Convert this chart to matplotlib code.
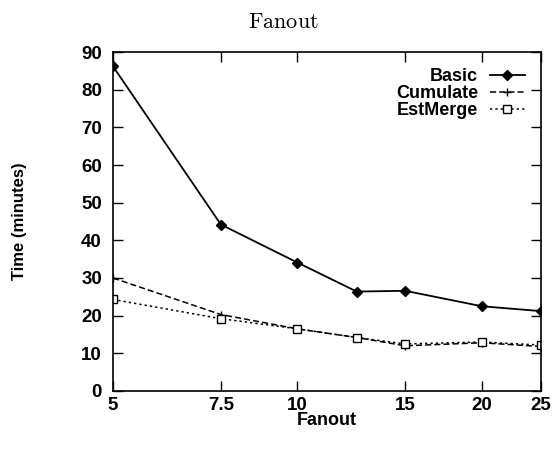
import matplotlib
matplotlib.use("Agg")
import matplotlib.pyplot as plt
from matplotlib.ticker import FixedLocator, NullLocator, FixedFormatter

# ── Data ──────────────────────────────────────────────────────────────────────

FANOUT    = [5, 7.5, 10, 12.5, 15, 20, 25]
BASIC     = [86.2, 44.2, 34.1, 26.4, 26.6, 22.5, 21.2]
CUMULATE  = [30.0, 20.3, 16.5, 14.2, 12.0, 12.8, 11.8]
ESTMERGE  = [24.3, 19.2, 16.5, 14.2, 12.5, 13.0, 12.2]

X_TICKS   = [5, 7.5, 10, 15, 20, 25]
X_LABELS  = ["5", "7.5", "10", "15", "20", "25"]
Y_TICKS   = list(range(0, 91, 10))

plt.rcParams["font.family"] = ["Liberation Sans", "DejaVu Sans"]
plt.rcParams["mathtext.fontset"] = "cm"

fig = plt.figure(figsize=(5.55, 4.73), dpi=100)
ax = fig.add_axes([0.2036, 0.1734, 0.7714, 0.7166])

ax.plot(FANOUT, BASIC, color="black", lw=1.3, marker="D", ms=5,
        label="Basic")
ax.plot(FANOUT, CUMULATE, color="black", lw=1.1, ls=(0, (4, 2)),
        marker="+", ms=6, mew=1.0, label="Cumulate")
ax.plot(FANOUT, ESTMERGE, color="black", lw=1.1, ls=(0, (1.5, 2)),
        marker="s", ms=6, mfc="white", mew=1.0, label="EstMerge")

ax.set_xscale("log")
ax.set_xlim(5, 25)
ax.set_ylim(0, 90)
ax.xaxis.set_major_locator(FixedLocator(X_TICKS))
ax.xaxis.set_major_formatter(FixedFormatter(X_LABELS))
ax.xaxis.set_minor_locator(NullLocator())
ax.set_yticks(Y_TICKS)

ax.tick_params(direction="in", top=True, right=True, length=7, width=1.0,
               labelsize=13.5)
ax.tick_params(axis="x", pad=4)
ax.tick_params(axis="y", pad=8)
for lbl in ax.get_xticklabels() + ax.get_yticklabels():
    lbl.set_fontweight("bold")
for spine in ax.spines.values():
    spine.set_linewidth(1.2)

ax.set_xlabel("Fanout", fontsize=13, fontweight="bold", labelpad=-1)
ax.set_ylabel("Time (minutes)", fontsize=12, fontweight="bold")
ax.yaxis.set_label_coords(-0.2, 0.5)

# title is centred on the whole canvas, not on the axes
fig.text(0.51, 1 - 23 / 473, r"$\mathrm{Fanout}$", fontsize=16,
         ha="center", va="center")

leg = ax.legend(loc="upper right", markerfirst=False, frameon=False,
                prop={"size": 13, "weight": "bold"}, handlelength=1.95,
                handletextpad=0.65, labelspacing=0.0,
                bbox_to_anchor=(1.0, 1.0))
for txt in leg.get_texts():
    txt.set_ha("right")

fig.savefig("out.png", dpi=100)
